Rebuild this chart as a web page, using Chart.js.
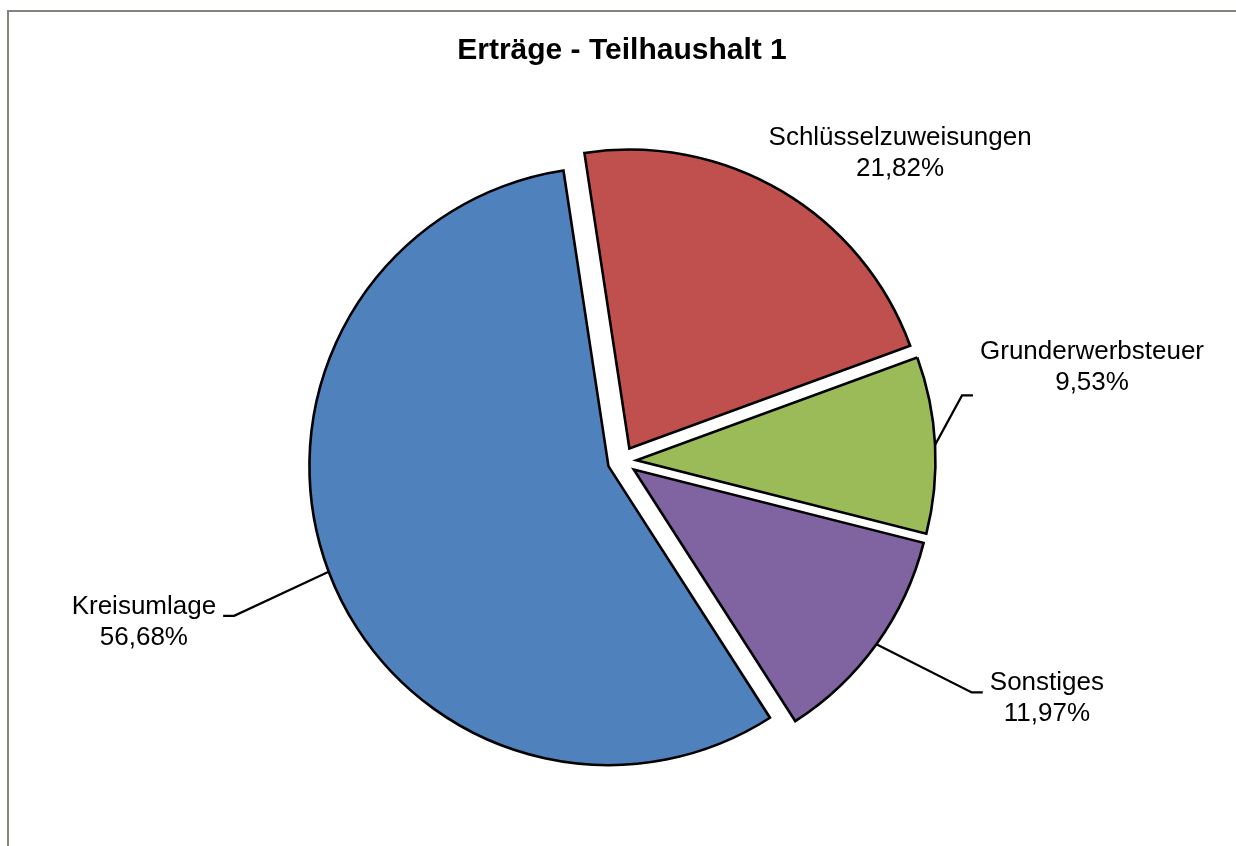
<!DOCTYPE html>
<html lang="de">
<head>
    <meta charset="UTF-8">
    <title>Erträge - Teilhaushalt 1</title>
    <script src="https://cdn.jsdelivr.net/npm/chart.js"></script>
    <style>
        body {
            margin: 0;
            background-color: #ffffff;
        }

        #frame {
            position: absolute;
            left: 7px;
            top: 10px;
            width: 1260px;
            height: 870px;
            border: 2.5px solid #84847c;
            pointer-events: none;
        }

        #pieChart {
            position: absolute;
            left: 0;
            top: 0;
        }
    </style>
</head>
<body>
    <canvas id="pieChart" width="1236" height="846"></canvas>
    <div id="frame"></div>

    <script>
        // data
        const categories = ['Kreisumlage', 'Schlüsselzuweisungen', 'Grunderwerbsteuer', 'Sonstiges'];
        const shares = [56.68, 21.82, 9.53, 11.97];
        const sliceColors = ['#4F81BD', '#C0504D', '#9BBB59', '#8064A2'];

        // label block centre in units of the pie radius, relative to the pie centre
        // attach: where the leader meets the label (px from block centre), null = no leader
        const labelLayout = [
            { fx: -1.599, fy: 0.538, attach: { side: 'right', dy: -6 } },
            { fx: 0.930, fy: -1.030, attach: null },
            { fx: 1.572, fy: -0.313, attach: { side: 'left', dy: 28 } },
            { fx: 1.421, fy: 0.794, attach: { side: 'left', dy: -6 } }
        ];

        const PIE_RADIUS = 299;
        const EXPLODE = 14.5;
        const FONT = '"Liberation Sans", Arial, sans-serif';

        function fmtPercent(v) {
            return v.toFixed(2).replace('.', ',') + '%';
        }

        // move each slice outward along its middle angle (Excel style explosion)
        const explodePlugin = {
            id: 'explode',
            beforeDatasetsDraw(chart) {
                const area = chart.chartArea;
                const meta = chart.getDatasetMeta(0);
                const cx = (area.left + area.right) / 2 + (meta.controller.offsetX || 0);
                const cy = (area.top + area.bottom) / 2 + (meta.controller.offsetY || 0);
                meta.data.forEach(arc => {
                    const mid = (arc.startAngle + arc.endAngle) / 2;
                    arc.x = cx + Math.cos(mid) * EXPLODE;
                    arc.y = cy + Math.sin(mid) * EXPLODE;
                });
                chart.$pieCenter = { x: cx, y: cy };
            }
        };

        const labelPlugin = {
            id: 'sliceLabels',
            afterDatasetsDraw(chart) {
                const ctx = chart.ctx;
                const meta = chart.getDatasetMeta(0);
                const c = chart.$pieCenter;
                ctx.save();
                ctx.font = '26px ' + FONT;
                ctx.fillStyle = '#000';
                ctx.textAlign = 'center';
                ctx.textBaseline = 'middle';
                const lineGap = 31;

                meta.data.forEach((arc, i) => {
                    const lay = labelLayout[i];
                    const r = arc.outerRadius;
                    const lx = c.x + lay.fx * r;
                    const ly = c.y + lay.fy * r;
                    const name = categories[i];
                    const pct = fmtPercent(shares[i]);

                    ctx.fillText(name, lx, ly - lineGap / 2);
                    ctx.fillText(pct, lx, ly + lineGap / 2);

                    if (lay.attach) {
                        const w = Math.max(ctx.measureText(name).width, ctx.measureText(pct).width);
                        const mid = (arc.startAngle + arc.endAngle) / 2;
                        const sx = arc.x + Math.cos(mid) * r;
                        const sy = arc.y + Math.sin(mid) * r;
                        const dir = lay.attach.side === 'left' ? -1 : 1;
                        const ex = lx + dir * (w / 2 + 7);
                        const ey = ly + lay.attach.dy;
                        const kx = ex + dir * 11;
                        ctx.beginPath();
                        ctx.moveTo(sx, sy);
                        ctx.lineTo(kx, ey);
                        ctx.lineTo(ex, ey);
                        ctx.lineWidth = 2.2;
                        ctx.strokeStyle = '#000';
                        ctx.stroke();
                    }
                });
                ctx.restore();
            }
        };

        const ctx = document.getElementById('pieChart').getContext('2d');
        const chart = new Chart(ctx, {
            type: 'pie',
            data: {
                labels: categories,
                datasets: [{
                    data: shares,
                    backgroundColor: sliceColors,
                    borderColor: '#000000',
                    borderWidth: 2.6,
                    borderJoinStyle: 'miter',
                    hoverOffset: 0
                }]
            },
            options: {
                responsive: false,
                animation: false,
                events: [],
                devicePixelRatio: 1,
                rotation: 147.3,
                radius: PIE_RADIUS,
                layout: {
                    padding: { left: 8, right: 0, top: 0, bottom: 0 }
                },
                plugins: {
                    legend: { display: false },
                    tooltip: { enabled: false },
                    title: {
                        display: true,
                        text: 'Erträge - Teilhaushalt 1',
                        color: '#000',
                        font: { family: FONT, size: 30, weight: 'bold' },
                        padding: { top: 33, bottom: 7 }
                    }
                }
            },
            plugins: [explodePlugin, labelPlugin]
        });
    </script>
</body>
</html>
